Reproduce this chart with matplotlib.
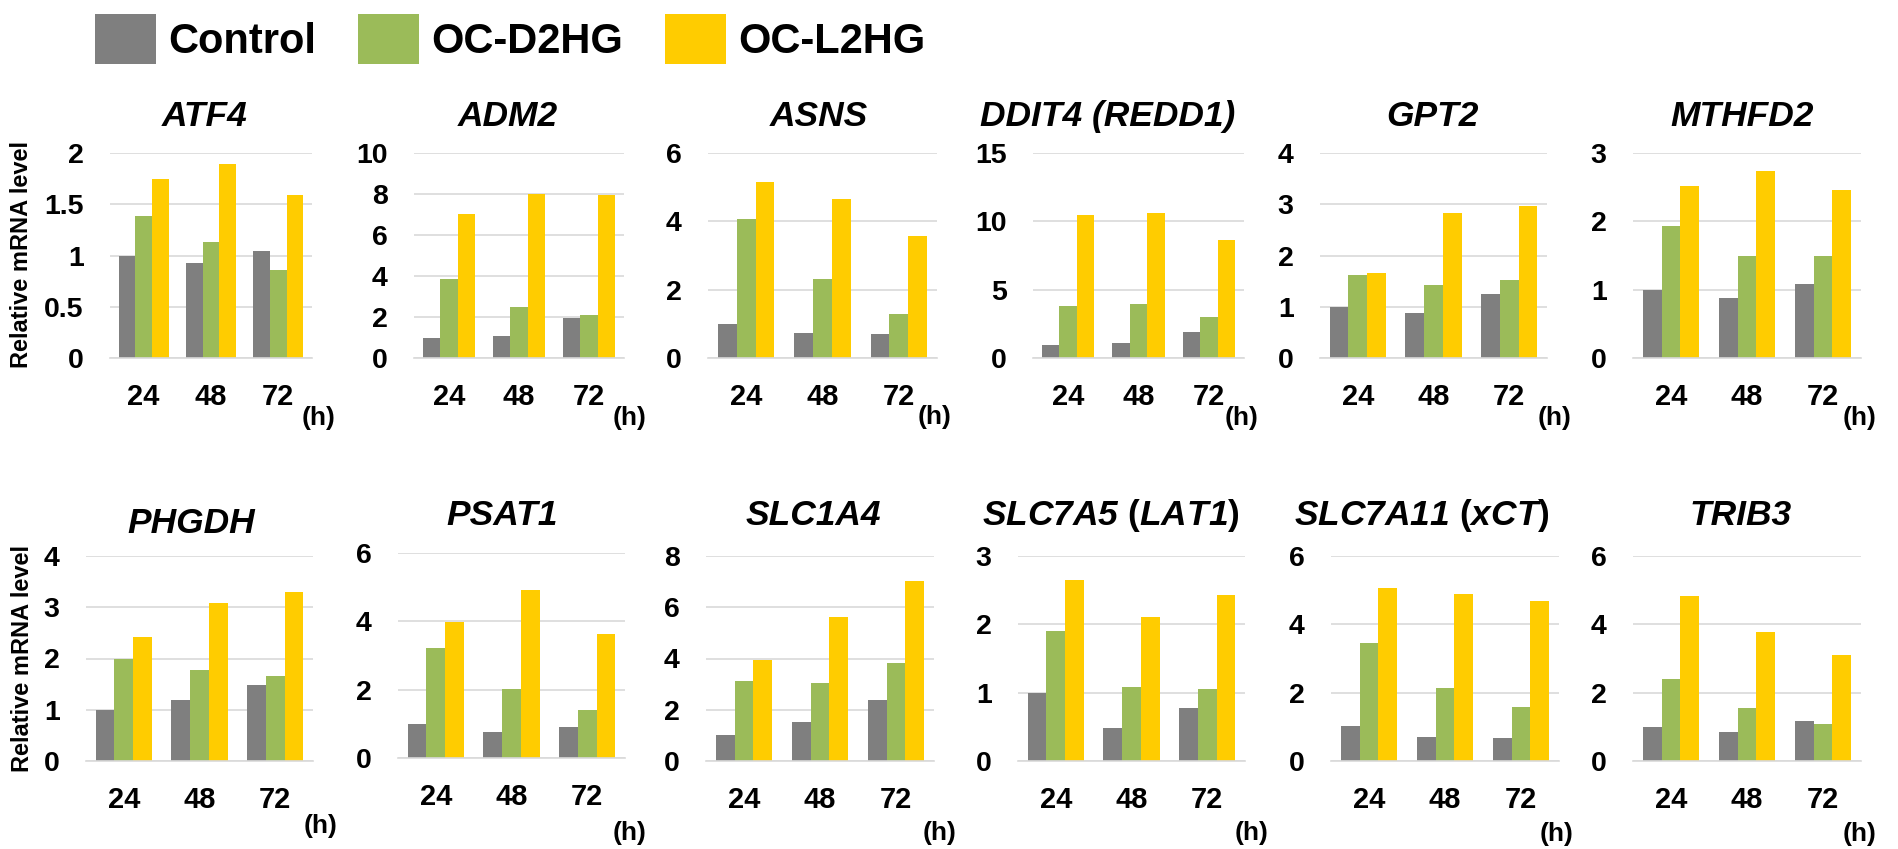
import matplotlib
matplotlib.use("Agg")
import numpy as np
import matplotlib.pyplot as plt
from matplotlib.patches import Patch

# ---- data ----
hours = ["24", "48", "72"]
groups = ["Control", "OC-D2HG", "OC-L2HG"]
titles = ["ATF4", "ADM2", "ASNS", "DDIT4 (REDD1)", "GPT2", "MTHFD2",
          "PHGDH", "PSAT1", "SLC1A4", r"$SLC7A5$ ($LAT1$)",
          r"$SLC7A11$ ($xCT$)", "TRIB3"]
y_max = [2, 10, 6, 15, 4, 3, 4, 6, 8, 3, 6, 6]
y_step = [0.5, 2, 2, 5, 1, 1, 1, 2, 2, 1, 2, 2]

control = [
    [1.00, 0.93, 1.04],   # ATF4
    [0.98, 1.09, 1.97],   # ADM2
    [1.00, 0.73, 0.69],   # ASNS
    [0.98, 1.10, 1.88],   # DDIT4
    [1.00, 0.88, 1.24],   # GPT2
    [1.00, 0.88, 1.09],   # MTHFD2
    [0.99, 1.20, 1.48],   # PHGDH
    [1.00, 0.75, 0.92],   # PSAT1
    [1.02, 1.51, 2.40],   # SLC1A4
    [1.00, 0.49, 0.77],   # SLC7A5
    [1.01, 0.69, 0.67],   # SLC7A11
    [1.00, 0.85, 1.16],   # TRIB3
]
d2hg = [
    [1.39, 1.13, 0.86],
    [3.83, 2.51, 2.11],
    [4.06, 2.31, 1.29],
    [3.81, 3.98, 3.03],
    [1.62, 1.43, 1.52],
    [1.93, 1.49, 1.49],
    [2.00, 1.77, 1.65],
    [3.22, 2.02, 1.40],
    [3.14, 3.05, 3.83],
    [1.90, 1.09, 1.06],
    [3.44, 2.13, 1.59],
    [2.40, 1.54, 1.09],
]
l2hg = [
    [1.75, 1.89, 1.59],
    [7.03, 7.98, 7.93],
    [5.15, 4.64, 3.58],
    [10.48, 10.60, 8.60],
    [1.65, 2.83, 2.96],
    [2.51, 2.73, 2.46],
    [2.42, 3.09, 3.30],
    [3.99, 4.93, 3.63],
    [3.95, 5.63, 7.02],
    [2.65, 2.11, 2.43],
    [5.07, 4.89, 4.67],
    [4.83, 3.78, 3.10],
]

# ---- layout (pixels of the 1899x849 picture) ----
W, H = 1899, 849
boxes = [  # x0, x1, top, bottom
    (110, 312, 153, 358), (414, 624, 153, 358), (708, 937, 153, 358),
    (1033, 1244, 153, 358), (1320, 1547, 153, 358), (1633, 1861, 153, 358),
    (86, 313, 556, 761), (398, 625, 553, 758), (706, 934, 556, 761),
    (1018, 1245, 556, 761), (1331, 1559, 556, 761), (1633, 1861, 556, 761),
]
title_xy = [(205, 126), (508, 126), (819, 126), (1108, 126), (1432, 126), (1742, 126),
            (191, 533), (502, 525), (813, 525), (1111, 525), (1422, 525), (1741, 525)]
h_xy = [(319, 418), (630, 418), (935, 417), (1242, 418), (1555, 418), (1860, 418),
        (321, 826), (630, 833), (940, 833), (1252, 833), (1557, 834), (1860, 834)]
ylabel_xy = [(22, 255), (23, 658)]

colors = ["#7F7F7F", "#9BBB59", "#FFCC00"]
grid_c = "#D9D9D9"

plt.rcParams["font.family"] = ["Liberation Sans", "DejaVu Sans"]
plt.rcParams["font.weight"] = "bold"
plt.rcParams["mathtext.fontset"] = "custom"
plt.rcParams["mathtext.it"] = "Liberation Sans:italic:bold"
plt.rcParams["mathtext.rm"] = "Liberation Sans:italic:bold"

fig = plt.figure(figsize=(W / 100, H / 100), dpi=100)

bw = 0.247
x = np.arange(len(hours))
for i, (x0, x1, top, bot) in enumerate(boxes):
    ax = fig.add_axes([x0 / W, 1 - bot / H, (x1 - x0) / W, (bot - top) / H])
    for k, series in enumerate([control, d2hg, l2hg]):
        ax.bar(x + (k - 1) * bw, series[i], bw, color=colors[k], zorder=2)
    ax.set_xlim(-0.5, 2.5)
    ax.set_ylim(0, y_max[i])
    ticks = np.arange(0, y_max[i] + y_step[i] / 2, y_step[i])
    ax.set_yticks(ticks)
    ax.set_yticklabels(["{:g}".format(t) for t in ticks])
    ax.set_xticks(x)
    ax.set_xticklabels(hours)
    ax.yaxis.grid(True, color=grid_c, linewidth=1.2)
    ax.set_axisbelow(True)
    for s in ["top", "right", "left"]:
        ax.spines[s].set_visible(False)
    ax.spines["bottom"].set_color(grid_c)
    ax.spines["bottom"].set_linewidth(1.2)
    ax.tick_params(length=0)
    ax.tick_params(axis="x", pad=18, labelsize=21)
    ax.tick_params(axis="y", pad=19, labelsize=20.5)

    style = "normal" if "$" in titles[i] else "italic"
    tx, ty = title_xy[i]
    fig.text(tx / W, 1 - ty / H, titles[i], ha="center", va="baseline",
             fontsize=25.5, style=style)
    hx, hy = h_xy[i]
    fig.text(hx / W, 1 - hy / H, "(h)", ha="center", va="center", fontsize=19)

for lx, ly in ylabel_xy:
    fig.text(lx / W, 1 - ly / H, "Relative mRNA level", rotation=90,
             ha="center", va="center", fontsize=17)

handles = [Patch(facecolor=c, edgecolor="none", label=g) for c, g in zip(colors, groups)]
fig.legend(handles=handles, loc="center left", bbox_to_anchor=(95 / W, 1 - 39 / H),
           ncol=3, frameon=False, fontsize=30, handlelength=1.47, handleheight=1.49,
           handletextpad=0.29, columnspacing=1.0, borderpad=0, borderaxespad=0)

fig.savefig("out.png", dpi=100)
